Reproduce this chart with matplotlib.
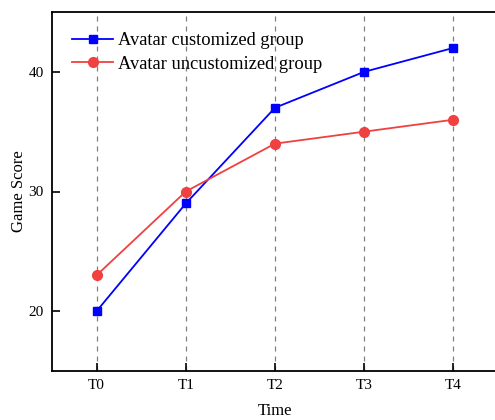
import numpy as np
import matplotlib.pyplot as plt

plt.rcParams['font.family'] = ['Liberation Serif', 'DejaVu Serif']

### Data
times = ['T0', 'T1', 'T2', 'T3', 'T4']
customized = [20, 29, 37, 40, 42]
uncustomized = [23, 30, 34, 35, 36]

x = np.arange(len(times))

fig = plt.figure(figsize=(4.95, 4.2), dpi=100)
# axes run past the right edge, as in the reference
ax = fig.add_axes([52 / 495, 1 - 371 / 420, 446 / 495, 359 / 420])

for xi in x:
    ax.axvline(xi, color='#808080', linestyle=(0, (4, 4)), linewidth=0.9, zorder=0)

ax.plot(x, customized, color='#0000ff', marker='s', markersize=6,
        linewidth=1.3, label='Avatar customized group')
ax.plot(x, uncustomized, color='#f04040', marker='o', markersize=7,
        linewidth=1.3, label='Avatar uncustomized group')

ax.set_xlim(-0.5, 4.5)
ax.set_ylim(15, 45)
ax.set_xticks(x)
ax.set_xticklabels(times)
ax.set_yticks([20, 30, 40])
ax.tick_params(direction='in', length=6, width=1.2, labelsize=11)
ax.tick_params(axis='x', pad=6)
ax.tick_params(axis='y', pad=6)
for s in ax.spines.values():
    s.set_linewidth(1.3)

ax.set_xlabel('Time', fontsize=12, labelpad=8)
ax.set_ylabel('Game Score', fontsize=12, labelpad=1)

ax.legend(loc='upper left', frameon=False, fontsize=13.3, handlelength=2.2,
          borderaxespad=0.8, handletextpad=0.3, labelspacing=0.35,
          borderpad=0.3)

fig.savefig('out.png', dpi=100)
